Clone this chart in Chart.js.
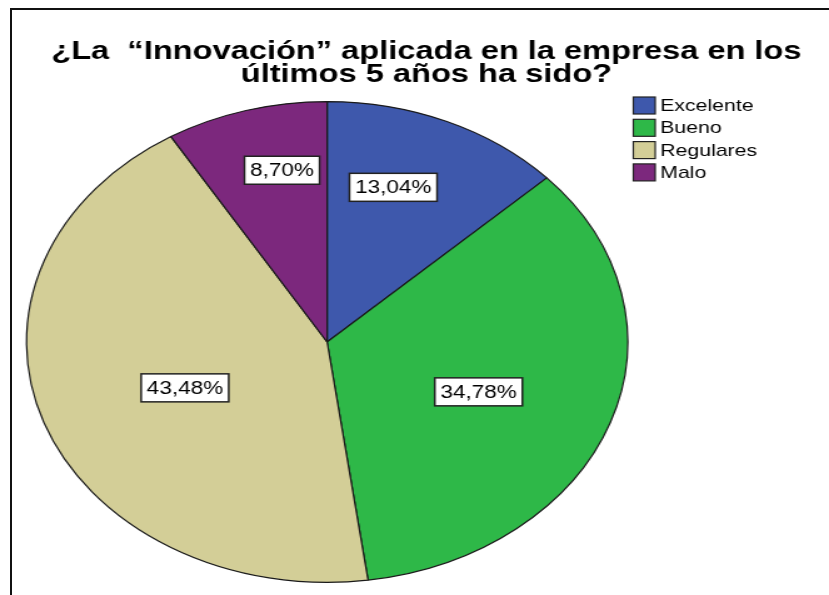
<!DOCTYPE html>
<html>
<head>
<meta charset="utf-8">
<script src="https://cdn.jsdelivr.net/npm/chart.js@4.4.0/dist/chart.umd.min.js"></script>
<style>
  body { margin: 0; background: #fff; overflow: hidden; }
  /* el original esta estirado a lo ancho, asi que se estira todo el lienzo */
  #caja { position: absolute; left: 0; top: 0; width: 663px; height: 595px; transform: scaleX(1.2504); transform-origin: 0 0; }
  #marco { position: absolute; left: 10px; top: 8px; width: 840px; height: 600px; border-left: 2px solid #111; border-top: 2px solid #111; }
</style>
</head>
<body>
<div id="caja"><canvas id="grafico" width="663" height="595"></canvas></div>
<div id="marco"></div>
<script>
var titulo = ['¿La  “Innovación” aplicada en la empresa en los', 'últimos 5 años ha sido?'];
var categorias = ["Excelente", "Bueno", "Regulares", "Malo"];
var frecuencias = [3, 8, 10, 2];
var colores = ['#3E58AC', '#2EB848', '#D3CE97', '#7C287D'];

var total = frecuencias.reduce(function (a, b) { return a + b; }, 0);
var porcentajes = frecuencias.map(function (f) {
    return (f / total * 100).toFixed(2).replace('.', ',') + '%';
});

// posicion de cada etiqueta: fraccion del radio y giro en grados
var radioEtiqueta = [0.68, 0.545, 0.51, 0.73];
var giroEtiqueta = [-4.6, 2.8, -2.4, 3.8];

var extras = {
    id: 'extras',
    afterDraw: function (chart) {
        var ctx = chart.ctx;
        ctx.save();

        // titulo (mas ancho que alto, se ajusta al ancho del original)
        ctx.fillStyle = '#000';
        ctx.font = 'bold 25px "Liberation Sans", Arial, sans-serif';
        ctx.textAlign = 'center';
        ctx.textBaseline = 'alphabetic';
        var k = 600 / ctx.measureText(titulo[0]).width;
        ctx.save();
        ctx.translate(341, 0);
        ctx.scale(k, 1);
        ctx.fillText(titulo[0], 0, 59);
        ctx.fillText(titulo[1], 0, 82);
        ctx.restore();

        // leyenda
        ctx.font = '17px "Liberation Sans", Arial, sans-serif';
        ctx.textAlign = 'left';
        ctx.textBaseline = 'middle';
        for (var i = 0; i < categorias.length; i++) {
            var yc = 105.5 + i * 22.3;
            ctx.fillStyle = colores[i];
            ctx.fillRect(506.5, yc - 8.5, 17.5, 17);
            ctx.strokeStyle = '#222';
            ctx.lineWidth = 1.2;
            ctx.strokeRect(506.5, yc - 8.5, 17.5, 17);
            ctx.fillStyle = '#000';
            ctx.fillText(categorias[i], 528, yc + 1);
        }

        // etiquetas de porcentaje
        ctx.font = '18px "Liberation Sans", Arial, sans-serif';
        ctx.textAlign = 'center';
        var arcos = chart.getDatasetMeta(0).data;
        arcos.forEach(function (arco, j) {
            var p = arco.getProps(['x', 'y', 'startAngle', 'endAngle', 'outerRadius'], true);
            var a = (p.startAngle + p.endAngle) / 2 + giroEtiqueta[j] * Math.PI / 180;
            var r = p.outerRadius * radioEtiqueta[j];
            var x = p.x + Math.cos(a) * r;
            var y = p.y + Math.sin(a) * r;
            var w = ctx.measureText(porcentajes[j]).width + 9;
            var h = 28;
            ctx.fillStyle = '#fff';
            ctx.fillRect(x - w / 2, y - h / 2, w, h);
            ctx.strokeStyle = '#222';
            ctx.lineWidth = 1.5;
            ctx.strokeRect(x - w / 2, y - h / 2, w, h);
            ctx.fillStyle = '#000';
            ctx.fillText(porcentajes[j], x, y + 1);
        });

        ctx.restore();
    }
};

var ctx = document.getElementById('grafico');
var grafico = new Chart(ctx, {
    type: 'pie',
    data: {
        labels: categorias,
        datasets: [{
            data: frecuencias,
            backgroundColor: colores,
            borderColor: '#1a1a1a',
            borderWidth: 1.2
        }]
    },
    options: {
        responsive: false,
        animation: false,
        layout: {
            padding: { left: 20.6, top: 101, right: 160.4, bottom: 12 }
        },
        plugins: {
            legend: { display: false },
            title: { display: false },
            tooltip: { enabled: false }
        }
    },
    plugins: [extras]
});
</script>
</body>
</html>
